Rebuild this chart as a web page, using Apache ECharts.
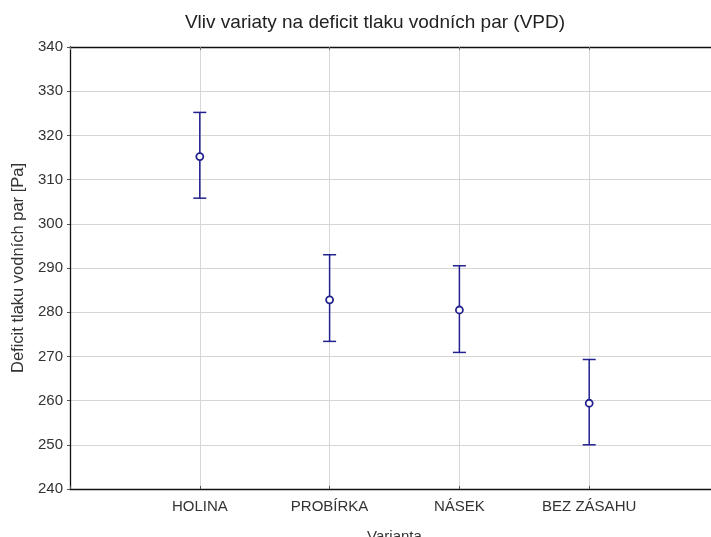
<!DOCTYPE html>
<html>
<head>
<meta charset="utf-8">
<script src="https://cdn.jsdelivr.net/npm/echarts@6/dist/echarts.min.js"></script>
<style>
  html, body { margin: 0; padding: 0; background: #fff; }
  #chart { width: 711px; height: 537px; }
</style>
</head>
<body>
<div id="chart"></div>
<script>
// Variants and their mean VPD with lower/upper interval bounds (Pa)
var categories = ['HOLINA', 'PROBÍRKA', 'NÁSEK', 'BEZ ZÁSAHU'];
var means  = [315.2, 282.8, 280.5, 259.4];
var lowers = [305.8, 273.4, 270.9, 250.0];
var uppers = [325.2, 293.0, 290.5, 269.3];
var yTicks = { min: 240, max: 340, step: 10 };

var ink = '#22228f';
var font = 'Liberation Sans, Arial, sans-serif';

var barData = categories.map(function (c, i) {
  return [i + 1, lowers[i], uppers[i]];
});
var meanData = categories.map(function (c, i) {
  return [i + 1, means[i]];
});

function renderBar(params, api) {
  var x = api.value(0);
  var lo = api.coord([x, api.value(1)]);
  var hi = api.coord([x, api.value(2)]);
  var cap = 6.5;
  var style = { stroke: ink, lineWidth: 1.5, fill: null };
  return {
    type: 'group',
    children: [
      { type: 'line', shape: { x1: lo[0], y1: lo[1], x2: hi[0], y2: hi[1] }, style: style },
      { type: 'line', shape: { x1: hi[0] - cap, y1: hi[1], x2: hi[0] + cap, y2: hi[1] }, style: style },
      { type: 'line', shape: { x1: lo[0] - cap, y1: lo[1], x2: lo[0] + cap, y2: lo[1] }, style: style }
    ]
  };
}

var chart = echarts.init(document.getElementById('chart'), null, { renderer: 'canvas' });
chart.setOption({
  animation: false,
  backgroundColor: '#ffffff',
  title: {
    text: 'Vliv variaty na deficit tlaku vodních par (VPD)',
    left: 370, top: 8, textAlign: 'center',
    textStyle: { fontFamily: font, fontSize: 19, fontWeight: 'normal', color: '#222' }
  },
  grid: { left: 70, top: 47, right: -8, bottom: 48, containLabel: false, outerBoundsMode: 'none' },
  xAxis: [{
    type: 'value', min: 0, max: 5, interval: 1,
    axisLine: { show: true, lineStyle: { color: '#111', width: 1.3 } },
    axisTick: { show: true, inside: true, length: 3, lineStyle: { color: '#555' } },
    splitLine: { show: true, lineStyle: { color: '#d6d6d6', width: 1 } },
    axisLabel: {
      margin: 10, fontFamily: font, fontSize: 15, color: '#333',
      formatter: function (v) { return categories[v - 1] || ''; }
    },
    name: 'Varianta', nameLocation: 'middle', nameGap: 40,
    nameTextStyle: { fontFamily: font, fontSize: 15, color: '#333' }
  }, {
    type: 'value', position: 'top', min: 0, max: 5, interval: 1,
    axisLine: { show: true, lineStyle: { color: '#111', width: 1.3 } },
    axisTick: { show: true, inside: true, length: 3, lineStyle: { color: '#777' } },
    axisLabel: { show: false }, splitLine: { show: false }
  }],
  yAxis: {
    type: 'value', min: yTicks.min, max: yTicks.max, interval: yTicks.step,
    axisLine: { show: true, lineStyle: { color: '#111', width: 1.3 } },
    axisTick: { show: true, inside: false, length: 3, lineStyle: { color: '#555' } },
    splitLine: { show: true, lineStyle: { color: '#d6d6d6', width: 1 } },
    axisLabel: { margin: 7, fontFamily: font, fontSize: 15, color: '#333' },
    name: 'Deficit tlaku vodních par [Pa]', nameLocation: 'middle', nameGap: 42,
    nameTextStyle: { fontFamily: font, fontSize: 16.5, color: '#333' }
  },
  series: [{
    type: 'custom',
    xAxisIndex: 0,
    renderItem: renderBar,
    data: barData,
    encode: { x: 0, y: [1, 2] },
    z: 3
  }, {
    type: 'scatter',
    xAxisIndex: 0,
    data: meanData,
    symbol: 'circle',
    symbolSize: 7,
    itemStyle: { color: '#ffffff', borderColor: ink, borderWidth: 1.8, opacity: 1 },
    z: 4
  }]
});
</script>
</body>
</html>
